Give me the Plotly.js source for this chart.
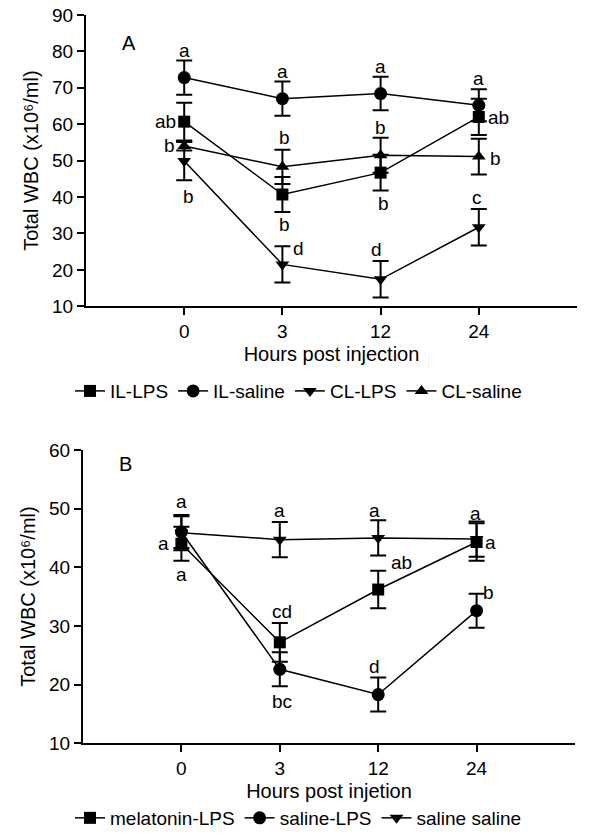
<!DOCTYPE html>
<html>
<head>
<meta charset="utf-8">
<script src="https://cdn.plot.ly/plotly-3.0.1.min.js"></script>
<style>html,body{margin:0;padding:0;background:#fff}#chart{width:595px;height:837px}</style>
</head>
<body>
<div id="chart"></div>
<script>
// ---------- data ----------
const xPos = [0, 1, 2, 3];
const hourLabels = ['0', '3', '12', '24'];

// Panel A
const ilLps = [60.7, 40.7, 46.7, 62.0];
const ilLpsErr = [5.2, 4.8, 4.9, 5.0];
const ilSaline = [72.8, 67.0, 68.4, 65.2];
const ilSalineErr = [4.7, 4.7, 4.6, 4.4];
const clLps = [49.9, 21.5, 17.4, 31.7];
const clLpsErr = [5.3, 5.0, 5.0, 5.0];
const clSaline = [54.0, 48.3, 51.5, 51.1];
const clSalineErr = [1.2, 4.7, 4.8, 4.9];

const ilLpsLetters = ['ab', 'b', 'b', 'ab'];
const ilSalineLetters = ['a', 'a', 'a', 'a'];
const clLpsLetters = ['b', 'd', 'd', 'c'];
const clSalineLetters = ['b', 'b', 'b', 'b'];

// Panel B
const melLps = [44.0, 27.2, 36.2, 44.3];
const melLpsErr = [2.9, 3.3, 3.2, 3.2];
const salLps = [46.0, 22.6, 18.3, 32.6];
const salLpsErr = [2.7, 2.9, 2.9, 2.9];
const salSal = [45.9, 44.7, 45.0, 44.8];
const salSalErr = [3.0, 3.0, 3.0, 3.0];

const melLpsLetters = ['a', 'cd', 'ab', 'a'];
const salLpsLetters = ['a', 'bc', 'd', 'b'];
const salSalLetters = ['a', 'a', 'a', 'a'];

// ---------- styling ----------
const FONT = 'Liberation Sans, Arial, sans-serif';
function series(name, y, err, symbol, xa, ya, legend) {
  return {
    type: 'scatter', mode: 'lines+markers', name: name,
    x: xPos, y: y, xaxis: xa, yaxis: ya, legend: legend,
    line: {color: '#000', width: 1.5},
    marker: {symbol: symbol, size: symbol === 'circle' ? 13 : 12, color: '#000'},
    error_y: {type: 'data', array: err, visible: true, color: '#000', thickness: 2, width: 8},
    cliponaxis: false
  };
}

const traces = [
  series('IL-LPS', ilLps, ilLpsErr, 'square', 'x', 'y', 'legend'),
  series('IL-saline', ilSaline, ilSalineErr, 'circle', 'x', 'y', 'legend'),
  series('CL-LPS', clLps, clLpsErr, 'triangle-down', 'x', 'y', 'legend'),
  series('CL-saline', clSaline, clSalineErr, 'triangle-up', 'x', 'y', 'legend'),
  series('melatonin-LPS', melLps, melLpsErr, 'square', 'x2', 'y2', 'legend2'),
  series('saline-LPS', salLps, salLpsErr, 'circle', 'x2', 'y2', 'legend2'),
  series('saline saline', salSal, salSalErr, 'triangle-down', 'x2', 'y2', 'legend2')
];

// letter annotations: offsets in pixels (style only)
const annotations = [];
function letters(y, labs, offs, xr, yr) {
  labs.forEach((t, i) => {
    annotations.push({
      x: xPos[i], y: y[i], xref: xr, yref: yr, text: t, showarrow: false,
      xshift: offs[i][0], yshift: offs[i][1],
      font: {family: FONT, size: 19, color: '#000'}
    });
  });
}
letters(ilSaline, ilSalineLetters, [[0,27],[0,27],[0,27],[0,27]], 'x', 'y');
letters(ilLps, ilLpsLetters, [[-19,0],[2,-30],[3,-31],[20,-1]], 'x', 'y');
letters(clSaline, clSalineLetters, [[-15,1],[2,29],[0,28],[17,-2]], 'x', 'y');
letters(clLps, clLpsLetters, [[4,-36],[16,16],[-4,30],[-2,30]], 'x', 'y');

letters(salSal, salSalLetters, [[0,31],[0,29],[-4,27],[-1,26]], 'x2', 'y2');
letters(melLps, melLpsLetters, [[-18,0],[2,31],[23,27],[14,0]], 'x2', 'y2');
letters(salLps, salLpsLetters, [[0,-42],[2,-32],[-4,28],[12,18]], 'x2', 'y2');

annotations.push({xref:'paper', yref:'paper', x: 120/595, y: 1-30/837, text:'A', showarrow:false,
  font:{family:FONT, size:20, color:'#000'}});
annotations.push({xref:'paper', yref:'paper', x: 117/595, y: 1-465/837, text:'B', showarrow:false,
  font:{family:FONT, size:20, color:'#000'}});

function xaxis(domain, anchor, title) {
  return {
    domain: domain, anchor: anchor, range: [-1, 4],
    tickvals: [0, 1, 2, 3], ticktext: hourLabels,
    showline: true, linecolor: '#000', linewidth: 2, ticks: 'outside', ticklen: 7, tickwidth: 2, tickcolor: '#000',
    showgrid: false, zeroline: false,
    tickfont: {family: FONT, size: 19, color: '#000'},
    title: {text: title, font: {family: FONT, size: 20, color: '#000'}, standoff: 6}
  };
}
// end tick marks at the axis ends (no labels)
function endTicks(overlay, anchor) {
  return {
    overlaying: overlay, anchor: anchor, range: [-1, 4], tickvals: [-1, 4],
    showticklabels: false, showline: false, showgrid: false, zeroline: false,
    ticks: 'outside', ticklen: 7, tickwidth: 2, tickcolor: '#000', side: 'bottom'
  };
}
function yaxis(domain, anchor, range) {
  return {
    domain: domain, anchor: anchor, range: range, dtick: 10, tick0: 10,
    showline: true, linecolor: '#000', linewidth: 2, ticks: 'outside', ticklen: 7, tickwidth: 2, tickcolor: '#000',
    showgrid: false, zeroline: false,
    tickfont: {family: FONT, size: 19, color: '#000'},
    title: {text: 'Total WBC (x10\u2076/ml)', font: {family: FONT, size: 20, color: '#000'}, standoff: 8}
  };
}

const legendBase = {orientation: 'h', xanchor: 'left', yanchor: 'middle',
  font: {family: FONT, size: 19, color: '#000'}, bgcolor: 'rgba(0,0,0,0)', itemwidth: 30, tracegroupgap: 0};

const layout = {
  width: 595, height: 837,
  margin: {l: 0, r: 0, t: 0, b: 0},
  paper_bgcolor: '#fff', plot_bgcolor: '#fff',
  font: {family: FONT, color: '#000'},
  xaxis: xaxis([86/595, 577/595], 'y', 'Hours post injection'),
  yaxis: yaxis([1-307/837, 1-15/837], 'x', [10, 90]),
  xaxis2: xaxis([83/595, 575/595], 'y2', 'Hours post injetion'),
  yaxis2: yaxis([1-745/837, 1-451/837], 'x2', [10, 60]),
  xaxis3: endTicks('x', 'y'),
  xaxis4: endTicks('x2', 'y2'),
  legend: Object.assign({}, legendBase, {x: 70/595, y: 1-392/837}),
  legend2: Object.assign({}, legendBase, {x: 70/595, y: 1-820/837}),
  annotations: annotations,
  showlegend: true
};

Plotly.newPlot('chart', traces, layout, {displayModeBar: false, staticPlot: true});
</script>
</body>
</html>
